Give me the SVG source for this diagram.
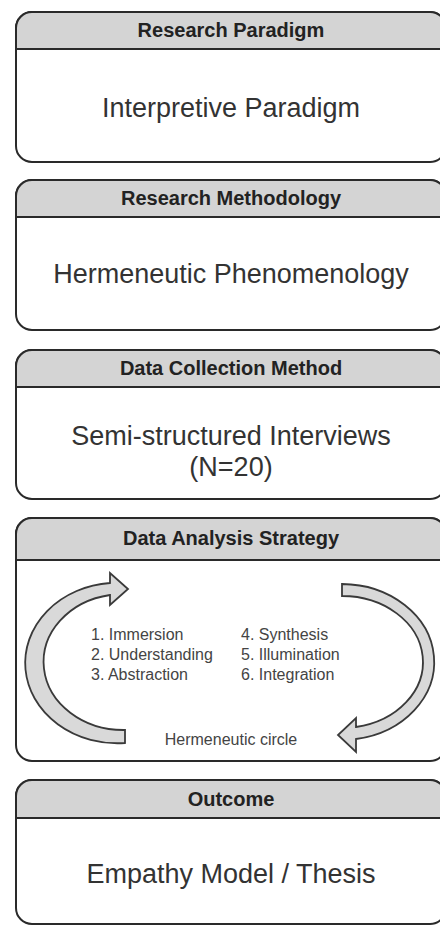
<svg xmlns="http://www.w3.org/2000/svg" width="440" height="926" viewBox="0 0 440 926">
<style>
.box{fill:#fff;stroke:#2a2a2a;stroke-width:2}
.hdr{fill:#d4d4d4;stroke:#2a2a2a;stroke-width:2}
.ht{font-family:"Liberation Sans",Arial,sans-serif;font-weight:bold;font-size:20px;fill:#222;text-anchor:middle}
.bt{font-family:"Liberation Sans",Arial,sans-serif;font-size:27px;fill:#333;text-anchor:middle}
.st{font-family:"Liberation Sans",Arial,sans-serif;font-size:16px;fill:#444}
.arr{fill:#d9d9d9;stroke:#3a3a3a;stroke-width:1.8;stroke-linejoin:miter}
</style>
<rect width="440" height="926" fill="#fff"/>
<g id="paradigm">
<rect class="box" x="16" y="12" width="430" height="150" rx="16"/>
<path class="hdr" d="M16,49 V28 A16,16 0 0 1 32,12 H430 A16,16 0 0 1 446,28 V49 Z"/>
<text class="ht" x="231" y="37">Research Paradigm</text>
<text class="bt" x="231" y="117">Interpretive Paradigm</text>
</g>
<g id="methodology">
<rect class="box" x="16" y="180" width="430" height="150" rx="16"/>
<path class="hdr" d="M16,217 V196 A16,16 0 0 1 32,180 H430 A16,16 0 0 1 446,196 V217 Z"/>
<text class="ht" x="231" y="205">Research Methodology</text>
<text class="bt" x="231" y="283">Hermeneutic Phenomenology</text>
</g>
<g id="collection">
<rect class="box" x="16" y="350" width="430" height="149" rx="16"/>
<path class="hdr" d="M16,387 V366 A16,16 0 0 1 32,350 H430 A16,16 0 0 1 446,366 V387 Z"/>
<text class="ht" x="231" y="375">Data Collection Method</text>
<text class="bt" x="231" y="445" font-size="26">Semi-structured Interviews</text>
<text class="bt" x="231" y="476" font-size="26">(N=20)</text>
</g>
<g id="analysis">
<rect class="box" x="16" y="518" width="430" height="243" rx="16"/>
<path class="hdr" d="M16,560 V534 A16,16 0 0 1 32,518 H430 A16,16 0 0 1 446,534 V560 Z"/>
<text class="ht" x="231" y="545">Data Analysis Strategy</text>
<path class="arr" d="M125,743 L125,730 A80,68 0 0 1 110,595 L110,605 L128,589 L110,573 L110,583 A92,80 0 0 0 125,743 Z"/>
<path class="arr" d="M342,584 L342,596 A81,66 0 0 1 356,727 L356,718 L338,735 L356,752 L356,739 A93,78 0 0 0 342,584 Z"/>
<text class="st" x="91" y="640">1. Immersion</text>
<text class="st" x="91" y="660">2. Understanding</text>
<text class="st" x="91" y="680">3. Abstraction</text>
<text class="st" x="241" y="640">4. Synthesis</text>
<text class="st" x="241" y="660">5. Illumination</text>
<text class="st" x="241" y="680">6. Integration</text>
<text class="st" x="231" y="745" text-anchor="middle">Hermeneutic circle</text>
</g>
<g id="outcome">
<rect class="box" x="16" y="780" width="430" height="144" rx="16"/>
<path class="hdr" d="M16,818 V796 A16,16 0 0 1 32,780 H430 A16,16 0 0 1 446,796 V818 Z"/>
<text class="ht" x="231" y="806">Outcome</text>
<text class="bt" x="231" y="883">Empathy Model / Thesis</text>
</g>
<g id="connectors"></g>
</svg>
